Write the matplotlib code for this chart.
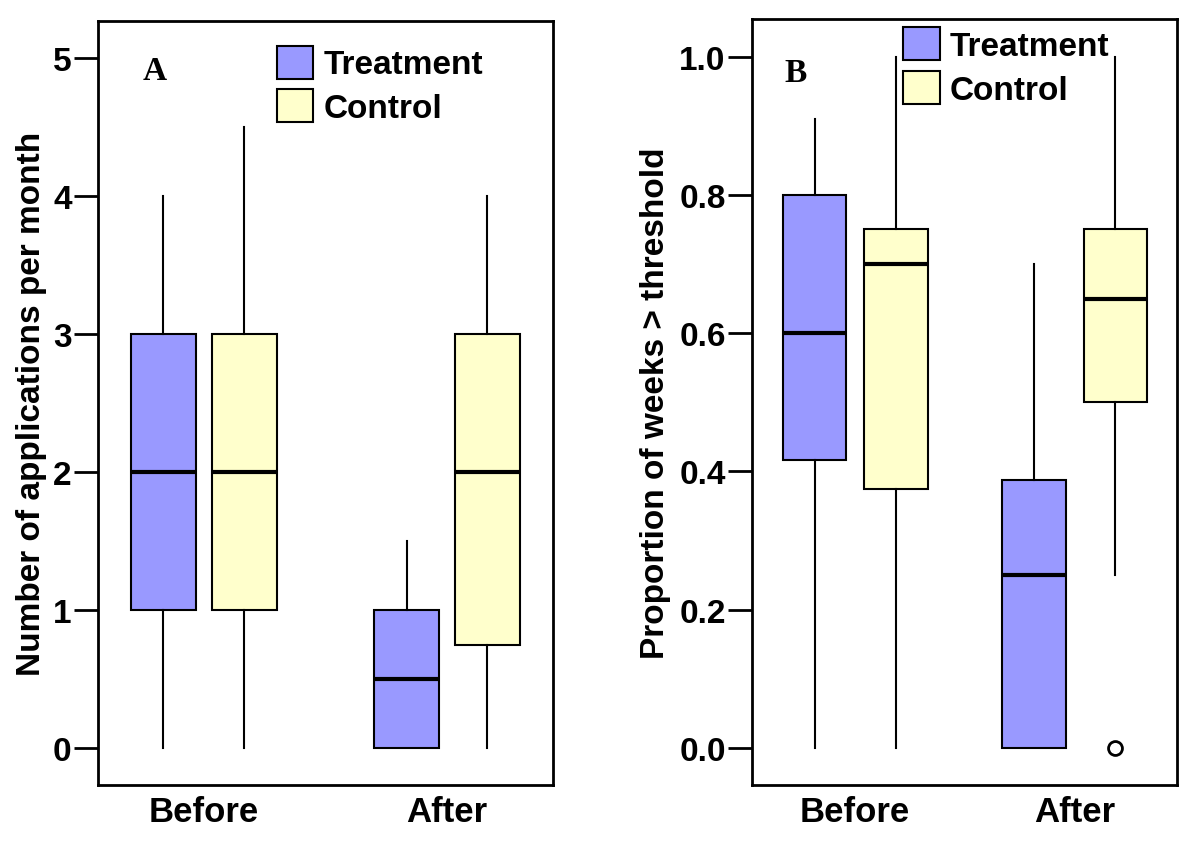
import matplotlib
matplotlib.use('Agg')
from matplotlib import pyplot as plt
from matplotlib.patches import Patch

plt.rcParams['font.family'] = ['Liberation Sans', 'DejaVu Sans']
plt.rcParams['font.weight'] = 'bold'

groups = ['Before', 'After']
series = ['Treatment', 'Control']
colors = {'Treatment': '#9999ff', 'Control': '#ffffcc'}

# five-number summaries: (whislo, q1, med, q3, whishi)
apps = {
    'Treatment': [(0, 1, 2, 3, 4), (0, 0, 0.5, 1, 1.5)],
    'Control': [(0, 1, 2, 3, 4.5), (0, 0.75, 2, 3, 4)],
}
prop = {
    'Treatment': [(0, 0.417, 0.6, 0.8, 0.91), (0, 0, 0.25, 0.388, 0.7)],
    'Control': [(0, 0.375, 0.7, 0.75, 1.0), (0.25, 0.5, 0.65, 0.75, 1.0)],
}
apps_fliers = {'Treatment': [[], []], 'Control': [[], []]}
prop_fliers = {'Treatment': [[], []], 'Control': [[], [0.0]]}


def draw(ax, data, fliers, offset, width):
    for s, sign in zip(series, [-1, 1]):
        stats = []
        for i, v in enumerate(data[s]):
            stats.append(dict(whislo=v[0], q1=v[1], med=v[2], q3=v[3],
                              whishi=v[4], fliers=fliers[s][i]))
        pos = [i + 1 + sign * offset for i in range(len(groups))]
        ax.bxp(stats, positions=pos, widths=width, patch_artist=True,
               showcaps=False,
               boxprops=dict(facecolor=colors[s], edgecolor='black', linewidth=1.5),
               whiskerprops=dict(color='black', linewidth=1.5),
               medianprops=dict(color='black', linewidth=3),
               flierprops=dict(marker='o', markersize=10, markerfacecolor='white',
                               markeredgecolor='black', markeredgewidth=2))
    ax.set_xticks([1, 2])
    ax.set_xticklabels(groups, fontsize=25, fontweight='bold')
    ax.tick_params(axis='x', length=0, pad=7)
    ax.tick_params(axis='y', length=17, width=2, labelsize=24, pad=2)
    for sp in ax.spines.values():
        sp.set_linewidth(2)
    handles = [Patch(facecolor=colors[s], edgecolor='black', linewidth=1.5) for s in series]
    return handles


def add_legend(ax, handles, x, y):
    ax.legend(handles, series, loc='upper left', bbox_to_anchor=(x, y), frameon=False,
              fontsize=24, handlelength=1.1, handleheight=1.15, handletextpad=0.3,
              labelspacing=0.27, borderaxespad=0, borderpad=0)


fig = plt.figure(figsize=(12, 8.45), dpi=100)
axA = fig.add_axes([0.0817, 0.0698, 0.379, 0.904])
axB = fig.add_axes([0.6267, 0.0698, 0.354, 0.906])

h = draw(axA, apps, apps_fliers, 0.166, 0.267)
axA.set_xlim(0.565, 2.435)
axA.set_ylim(-0.268, 5.268)
axA.set_yticks([0, 1, 2, 3, 4, 5])
axA.set_ylabel('Number of applications per month', fontsize=24, fontweight='bold')
axA.yaxis.set_label_coords(-0.112, 0.5)
axA.text(0.097, 0.935, 'A', transform=axA.transAxes, fontsize=24, fontweight='bold',
         family='Liberation Serif', va='center')
add_legend(axA, h, 0.393, 0.968)

h = draw(axB, prop, prop_fliers, 0.185, 0.29)
axB.set_xlim(0.53, 2.465)
axB.set_ylim(-0.054, 1.054)
axB.set_yticks([0, 0.2, 0.4, 0.6, 0.8, 1.0])
axB.set_yticklabels(['0.0', '0.2', '0.4', '0.6', '0.8', '1.0'])
axB.set_ylabel('Proportion of weeks > threshold', fontsize=24, fontweight='bold')
axB.yaxis.set_label_coords(-0.19, 0.5)
axB.text(0.076, 0.931, 'B', transform=axB.transAxes, fontsize=24, fontweight='bold',
         family='Liberation Serif', va='center')
add_legend(axB, h, 0.356, 0.99)

fig.savefig('out.png', dpi=100)
